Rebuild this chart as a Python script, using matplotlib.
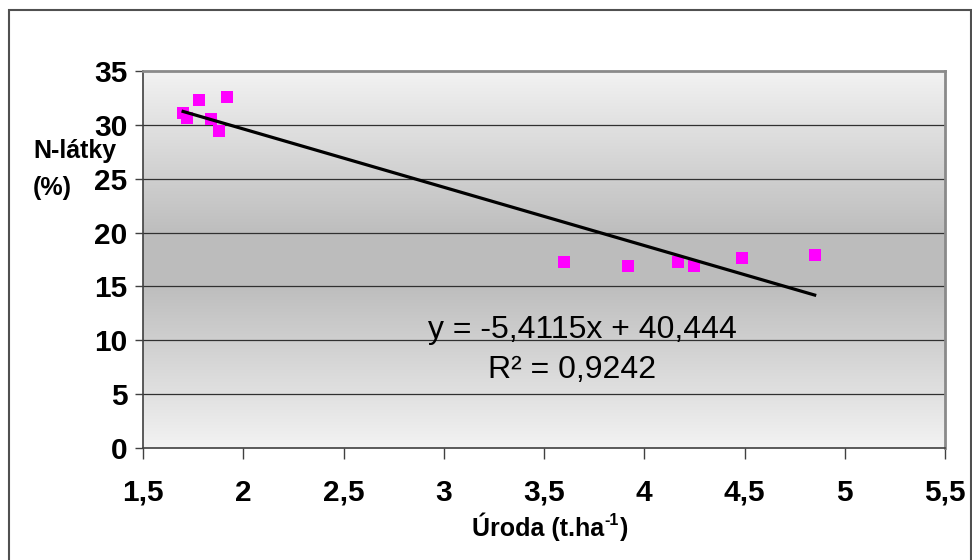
import numpy as np
import matplotlib
matplotlib.use("Agg")
import matplotlib.pyplot as plt
from matplotlib.patches import Rectangle

# Yield (t/ha) and crude protein content (%)
uroda = [1.70, 1.72, 1.78, 1.84, 1.88, 1.92, 3.60, 3.92, 4.17, 4.25, 4.49, 4.85]
n_latky = [31.1, 30.6, 32.3, 30.5, 29.4, 32.6, 17.3, 16.9, 17.3, 16.9, 17.6, 17.9]

# Linear trend parameters
slope = -5.4115
intercept = 40.444
r2 = 0.9242

x_ticks = [1.5, 2, 2.5, 3, 3.5, 4, 4.5, 5, 5.5]
y_ticks = [0, 5, 10, 15, 20, 25, 30, 35]

plt.rcParams['font.family'] = ['Liberation Sans', 'DejaVu Sans']

fig = plt.figure(figsize=(9.72, 5.6), dpi=100)
ax = fig.add_axes([143 / 972, 1 - 448 / 560, (945 - 143) / 972, (448 - 71) / 560])

# Vertical gray gradient: light at the edges, darker in the middle
t = np.linspace(0, 1, 256)
shade = 0.95 - 0.21 * np.clip(1.15 * (1 - np.abs(2 * t - 1)), 0, 1)
grad = np.repeat(shade[:, None, None], 3, axis=2).repeat(2, axis=1)
ax.imshow(grad, extent=[0, 1, 0, 1], transform=ax.transAxes, aspect='auto',
          zorder=0, interpolation='bilinear')

ax.set_xlim(1.5, 5.5)
ax.set_ylim(0, 35)
ax.set_xticks(x_ticks)
ax.set_yticks(y_ticks)
ax.set_xticklabels([f"{v:g}".replace('.', ',') for v in x_ticks])
ax.set_yticklabels([str(v) for v in y_ticks])

for v in y_ticks[1:-1]:
    ax.axhline(v, color='#303030', lw=0.9, zorder=1)

xs = np.array([min(uroda), max(uroda)])
ax.plot(xs, slope * xs + intercept, color='black', lw=2.3, zorder=3)
ax.plot(uroda, n_latky, linestyle='none', marker='s', markersize=8.8,
        color='#FF00FF', markeredgewidth=0, zorder=2)

ax.text(2.92, 10.2, f"y = {slope:.4f}x + {intercept:.3f}".replace('.', ','),
        fontsize=23, ha='left', va='baseline', zorder=4)
ax.text(3.22, 6.5, f"R² = {r2:.4f}".replace('.', ','),
        fontsize=23, ha='left', va='baseline', zorder=4)

ax.tick_params(axis='both', direction='out', color='#404040', width=1,
               labelsize=21.5)
ax.tick_params(axis='y', length=6, pad=5)
ax.tick_params(axis='x', length=8, pad=14)
for lab in ax.get_xticklabels() + ax.get_yticklabels():
    lab.set_fontweight('bold')

for side in ['top', 'right']:
    ax.spines[side].set_color('#8a8a8a')
    ax.spines[side].set_linewidth(2)
for side in ['left', 'bottom']:
    ax.spines[side].set_color('#404040')
    ax.spines[side].set_linewidth(1.2)

fig.text(33 / 972, 1 - 158 / 560, "N-látky", fontsize=18, fontweight='bold',
         ha='left', va='baseline')
fig.text(33 / 972, 1 - 195 / 560, "(%)", fontsize=18, fontweight='bold',
         ha='left', va='baseline')

# x-axis title with a small raised "-1"
renderer = fig.canvas.get_renderer()
part1 = fig.text(472 / 972, 1 - 536 / 560, "Úroda (t.ha", fontsize=18,
                 fontweight='bold', ha='left', va='baseline')
bb = part1.get_window_extent(renderer)
sup = fig.text(bb.x1 / 972 + 0.5 / 972, 1 - 525 / 560, "-1", fontsize=11.5,
               fontweight='bold', ha='left', va='baseline')
bb2 = sup.get_window_extent(renderer)
fig.text(bb2.x1 / 972 + 1 / 972, 1 - 536 / 560, ")", fontsize=18,
         fontweight='bold', ha='left', va='baseline')

# Outer frame of the chart
fig.patches.append(Rectangle((9 / 972, -0.05), (971 - 9) / 972, 1.05 - 10 / 560,
                             transform=fig.transFigure, fill=False,
                             edgecolor='#505050', lw=1.5))

fig.savefig("out.png", dpi=100)
